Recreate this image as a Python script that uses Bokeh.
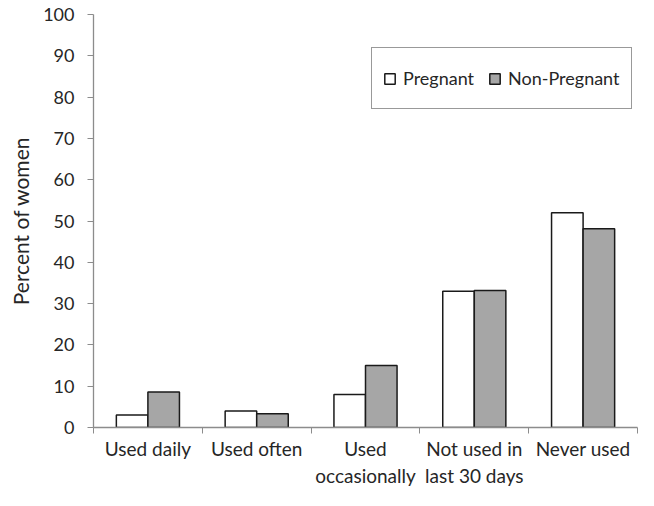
import numpy as np
from bokeh.plotting import figure
from bokeh.models import Range1d, FixedTicker, ColumnDataSource
from bokeh.embed import file_html
from bokeh.resources import INLINE

categories = ["Used daily", "Used often", "Used\noccasionally", "Not used in\nlast 30 days", "Never used"]
pregnant = [3.0, 4.0, 8.0, 33.0, 52.0]
non_pregnant = [8.6, 3.3, 15.0, 33.2, 48.1]
y_ticks = [0, 10, 20, 30, 40, 50, 60, 70, 80, 90, 100]

FONT = "Lato"
TEXT = "#262626"
AXIS = "#8c8c8c"

centers = np.arange(len(categories)) + 0.5
bw = 0.29

src = ColumnDataSource(dict(
    xp=centers - bw / 2, xn=centers + bw / 2,
    p=pregnant, n=non_pregnant,
))

p = figure(width=638, height=490, output_backend="svg", toolbar_location=None,
           x_range=Range1d(0, len(categories)), y_range=Range1d(0, 100))
p.min_border_left = 93
p.min_border_right = 1
p.min_border_top = 14
p.min_border_bottom = 60
p.outline_line_color = None
p.xgrid.grid_line_color = None
p.ygrid.grid_line_color = None
p.background_fill_color = "white"
p.border_fill_color = "white"

p.vbar(x="xp", top="p", width=bw, bottom=0, source=src, fill_color="white",
       line_color="#1a1a1a", line_width=1.5, legend_label="Pregnant")
p.vbar(x="xn", top="n", width=bw, bottom=0, source=src, fill_color="#a6a6a6",
       line_color="#1a1a1a", line_width=1.5, legend_label="Non-Pregnant")

# x axis
xa = p.xaxis[0]
xa.ticker = FixedTicker(ticks=list(centers), minor_ticks=list(range(len(categories) + 1)))
xa.major_label_overrides = {float(c): lab for c, lab in zip(centers, categories)}
xa.major_tick_line_color = None
xa.major_tick_out = 0
xa.major_tick_in = 0
xa.minor_tick_line_color = AXIS
xa.minor_tick_in = 0
xa.minor_tick_out = 6
xa.axis_line_color = AXIS
xa.axis_line_width = 1.3
xa.major_label_text_font = FONT
xa.major_label_text_font_size = "19px"
xa.major_label_text_color = TEXT
xa.major_label_standoff = 3

# y axis
ya = p.yaxis[0]
ya.ticker = FixedTicker(ticks=y_ticks)
ya.minor_tick_line_color = None
ya.major_tick_in = 0
ya.major_tick_out = 6
ya.major_tick_line_color = AXIS
ya.axis_line_color = AXIS
ya.axis_line_width = 1.3
ya.major_label_text_font = FONT
ya.major_label_text_font_size = "18px"
ya.major_label_text_color = TEXT
ya.major_label_standoff = 13
ya.axis_label = "Percent of women"
ya.axis_label_text_font = FONT
ya.axis_label_text_font_size = "21px"
ya.axis_label_text_font_style = "normal"
ya.axis_label_text_color = TEXT
ya.axis_label_standoff = 7

lg = p.legend[0]
lg.orientation = "horizontal"
lg.location = (278, 318)
lg.label_text_font = FONT
lg.label_text_font_size = "18px"
lg.label_text_color = TEXT
lg.glyph_width = 13
lg.glyph_height = 13
lg.label_standoff = 7
lg.spacing = 14
lg.padding = 11
lg.label_height = 38
lg.border_line_color = "#333333"
lg.border_line_width = 1.5
lg.background_fill_alpha = 1.0
lg.margin = 0

open("out.html", "w").write(file_html(p, INLINE))
